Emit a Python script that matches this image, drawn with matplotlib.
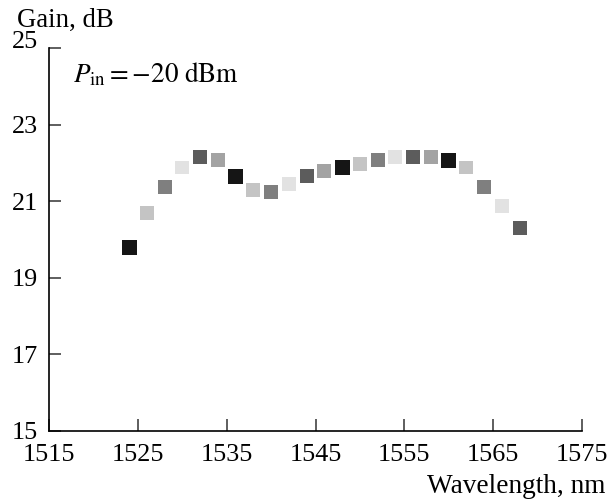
import matplotlib
matplotlib.use("Agg")
import matplotlib.pyplot as plt

# Data
wavelength = [1524, 1526, 1528, 1530, 1532, 1534, 1536, 1538, 1540, 1542, 1544, 1546,
              1548, 1550, 1552, 1554, 1556, 1558, 1560, 1562, 1564, 1566, 1568]
gain = [19.78, 20.68, 21.38, 21.88, 22.16, 22.08, 21.64, 21.30, 21.25, 21.45, 21.66, 21.79,
        21.88, 21.98, 22.08, 22.16, 22.16, 22.16, 22.07, 21.88, 21.38, 20.88, 20.29]
x_ticks = [1515, 1525, 1535, 1545, 1555, 1565, 1575]
y_ticks = [15, 17, 19, 21, 23, 25]

# Styles
shade_cycle = ['#151515', '#c4c4c4', '#7f7f7f', '#e2e2e2', '#5c5c5c', '#a3a3a3']
size_cycle = [120, 100, 100, 100, 100, 100]

plt.rcParams['font.family'] = ['Liberation Serif', 'DejaVu Serif']
plt.rcParams['mathtext.fontset'] = 'stix'

fig = plt.figure(figsize=(6.14, 4.99), dpi=100)
ax = fig.add_axes([49.3/614, (499-430.5)/499, (581.7-49.3)/614, (430.5-48.3)/499])

colors = [shade_cycle[i % 6] for i in range(len(wavelength))]
sizes = [size_cycle[i % 6] for i in range(len(wavelength))]
ax.scatter(wavelength, gain, s=sizes, c=colors, marker='s', linewidths=0, zorder=3)

ax.set_xlim(1515, 1575)
ax.set_ylim(15, 25)
ax.set_xticks(x_ticks)
ax.set_yticks(y_ticks)
ax.spines['top'].set_visible(False)
ax.spines['right'].set_visible(False)
for s in ('left', 'bottom'):
    ax.spines[s].set_linewidth(1.2)
ax.tick_params(direction='in', length=8.5, width=1.1, labelsize=18.8, color='#333333')
ax.tick_params(axis='x', pad=9.5)
ax.tick_params(axis='y', pad=8)

for lbl in ax.get_yticklabels():
    if lbl.get_text() == '25':
        lbl.set_verticalalignment('baseline')

fig.text(17/614, 1 - 27/499, 'Gain, dB', fontsize=19.3, ha='left', va='baseline')
fig.text(605/614, 1 - 493/499, 'Wavelength, nm', fontsize=19.6, ha='right', va='baseline')
ax.text(73/614, 1 - 82/499, r'$P_{\mathrm{in}} = -20\ \mathrm{dBm}$', fontsize=19.5,
        transform=fig.transFigure, ha='left', va='baseline')

fig.savefig('out.png', dpi=100)
